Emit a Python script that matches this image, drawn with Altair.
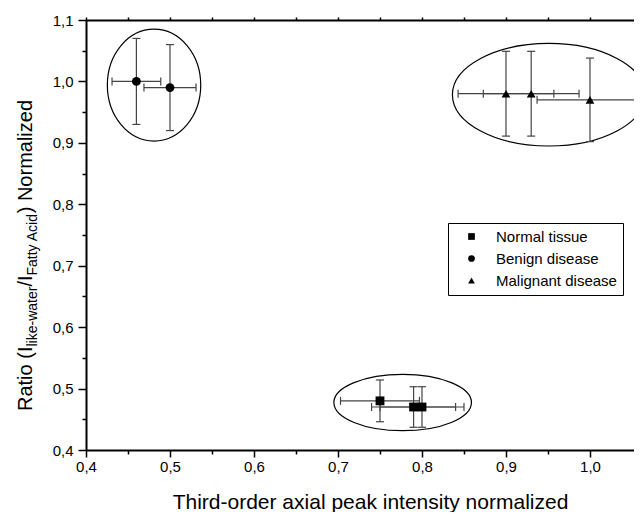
import altair as alt
import pandas as pd

# ---------------- data ----------------
groups = ["Normal tissue", "Normal tissue", "Normal tissue",
          "Benign disease", "Benign disease",
          "Malignant disease", "Malignant disease", "Malignant disease"]
x_vals = [0.75, 0.79, 0.80, 0.46, 0.50, 0.90, 0.93, 1.00]
y_vals = [0.48, 0.47, 0.47, 1.00, 0.99, 0.98, 0.98, 0.97]
x_err = [0.047, 0.05, 0.05, 0.029, 0.031, 0.057, 0.057, 0.063]
y_err = [0.034, 0.033, 0.033, 0.07, 0.07, 0.069, 0.069, 0.068]

legend_order = ["Normal tissue", "Benign disease", "Malignant disease"]
legend_shapes = ["square", "circle", "triangle-up"]

# cluster outlines: centre in data units
ellipse_names = ["Benign disease", "Normal tissue", "Malignant disease"]
ellipse_cx = [0.481, 0.777, 0.951]
ellipse_cy = [0.994, 0.4773, 0.9784]

x_ticks = [0.4, 0.45, 0.5, 0.55, 0.6, 0.65, 0.7, 0.75, 0.8, 0.85, 0.9, 0.95, 1.0, 1.05]
y_ticks = [0.4, 0.45, 0.5, 0.55, 0.6, 0.65, 0.7, 0.75, 0.8, 0.85, 0.9, 0.95, 1.0, 1.05, 1.1]

x_title = "Third-order axial peak intensity normalized"
y_title_parts = ["Ratio (I", "like-water", "/I", "Fatty Acid", ") Normalized"]

# ---------------- tables ----------------
df = pd.DataFrame({"group": groups, "x": x_vals, "y": y_vals, "xe": x_err, "ye": y_err})
df["x_lo"] = df["x"] - df["xe"]
df["x_hi"] = df["x"] + df["xe"]
df["y_lo"] = df["y"] - df["ye"]
df["y_hi"] = df["y"] + df["ye"]

xcaps = pd.concat([df[["x_lo", "y"]].rename(columns={"x_lo": "cx"}),
                   df[["x_hi", "y"]].rename(columns={"x_hi": "cx"})])
ycaps = pd.concat([df[["x", "y_lo"]].rename(columns={"y_lo": "cy"}),
                   df[["x", "y_hi"]].rename(columns={"y_hi": "cy"})])

# ---------------- styling ----------------
FONT = "Liberation Sans, Arial, Helvetica, sans-serif"
ERR = "#444444"
PLOT_W, PLOT_H = 548, 430

x_scale = alt.Scale(domain=[0.4, 1.0524], nice=False, zero=False)
y_scale = alt.Scale(domain=[0.4, 1.1], nice=False, zero=False)

major = "abs(datum.value*10 - round(datum.value*10)) < 0.001"
label_expr = f"({major}) ? replace(format(datum.value, '.1f'), '.', ',') : ''"


def tsize(big, small):
    return {"condition": {"test": f"!({major})", "value": small}, "value": big}


common_axis = dict(grid=False, domainColor="black", domainWidth=2, tickColor="black",
                   tickWidth=1.5, labelColor="black", labelFont=FONT, labelFontSize=15,
                   labelOverlap=False, labelFlush=False)

x_axis_bottom = alt.Axis(orient="bottom", values=x_ticks[:-1], labelExpr=label_expr,
                         tickSize=tsize(7, 4), labelPadding=2,
                         title=x_title, titleFont=FONT, titleFontSize=21,
                         titleFontWeight="normal", titleColor="black",
                         titleX=284, titleY=58, titleBaseline="alphabetic",
                         **common_axis)
x_axis_top = alt.Axis(orient="top", values=x_ticks[:-1], labels=False, tickSize=3,
                      title=None, grid=False, domainColor="black", domainWidth=2,
                      tickColor="black", tickWidth=1.5)
y_axis = alt.Axis(values=y_ticks, labelExpr=label_expr, tickSize=tsize(8, 4),
                  labelPadding=5, title=None, **common_axis)


def ellipse_shape(rx, ry):
    r = max(rx, ry)
    a, b = rx / r, ry / r
    path = (f"M {-a:.4f} 0 A {a:.4f} {b:.4f} 0 1 1 {a:.4f} 0 "
            f"A {a:.4f} {b:.4f} 0 1 1 {-a:.4f} 0 Z")
    return path, (2 * r) ** 2


ellipse_px = [(46.7, 56.0), (68.8, 28.2), (96.4, 51.3)]

layers = []
for i, name in enumerate(ellipse_names):
    path, size = ellipse_shape(*ellipse_px[i])
    edf = pd.DataFrame({"name": [name], "x": [ellipse_cx[i]], "y": [ellipse_cy[i]]})
    layers.append(
        alt.Chart(edf).mark_point(shape=path, size=size, filled=False, color="black",
                                  strokeWidth=1.2, opacity=1, clip=True).encode(
            x=alt.X("x:Q", scale=x_scale, axis=x_axis_top if i == 0 else None),
            y=alt.Y("y:Q", scale=y_scale, axis=y_axis),
        )
    )

layers.append(
    alt.Chart(df).mark_rule(color=ERR, strokeWidth=1.2, clip=True).encode(
        x=alt.X("x_lo:Q", scale=x_scale, axis=None), x2="x_hi:Q",
        y=alt.Y("y:Q", scale=y_scale, axis=y_axis))
)
layers.append(
    alt.Chart(df).mark_rule(color=ERR, strokeWidth=1.2, clip=True).encode(
        x=alt.X("x:Q", scale=x_scale, axis=None),
        y=alt.Y("y_lo:Q", scale=y_scale, axis=y_axis), y2="y_hi:Q")
)
layers.append(
    alt.Chart(xcaps).mark_tick(orient="vertical", size=8, thickness=1.2, color=ERR,
                               opacity=1, clip=True).encode(
        x=alt.X("cx:Q", scale=x_scale, axis=None),
        y=alt.Y("y:Q", scale=y_scale, axis=y_axis))
)
layers.append(
    alt.Chart(ycaps).mark_tick(orient="horizontal", size=8, thickness=1.2, color=ERR,
                               opacity=1, clip=True).encode(
        x=alt.X("x:Q", scale=x_scale, axis=None),
        y=alt.Y("cy:Q", scale=y_scale, axis=y_axis))
)
layers.append(
    alt.Chart(df).mark_point(filled=True, size=78, color="black", opacity=1).encode(
        x=alt.X("x:Q", scale=x_scale, axis=x_axis_bottom),
        y=alt.Y("y:Q", scale=y_scale, axis=y_axis),
        shape=alt.Shape("group:N", scale=alt.Scale(domain=legend_order, range=legend_shapes),
                        legend=alt.Legend(title=None, orient="none", legendX=362, legendY=203,
                                          strokeColor="black", padding=6, fillColor="white",
                                          labelFont=FONT, labelFontSize=15, labelColor="black",
                                          labelExpr="datum.label + '\u00a0\u00a0\u00a0\u00a0\u00a0'",
                                          symbolSize=45, symbolFillColor="black",
                                          symbolStrokeColor="black", symbolOffset=10,
                                          labelOffset=17, rowPadding=6)),
    )
)

# y title assembled from pieces (main text and subscripts)
title_layout = [  # (font size, x of baseline, y start) in plot pixels
    (20, -54, 391), (14, -49, 326.5), (20, -54, 266.6), (14, -49, 255.5), (20, -54, 193.3)
]
for part, (fs, tx, ty) in zip(y_title_parts, title_layout):
    layers.append(
        alt.Chart(pd.DataFrame({"t": [part]})).mark_text(
            angle=270, align="left", baseline="alphabetic", font=FONT, fontSize=fs,
            color="black").encode(text="t:N", x=alt.value(tx), y=alt.value(ty))
    )

chart = alt.layer(*layers).resolve_axis(x="independent").properties(
    width=PLOT_W, height=PLOT_H,
    autosize=alt.AutoSizeParams(type="none"),
    padding={"left": 78, "top": 12, "right": 0, "bottom": 62},
).configure_view(stroke=None)

chart.save("out.html", embed_options={"renderer": "svg", "actions": False})
